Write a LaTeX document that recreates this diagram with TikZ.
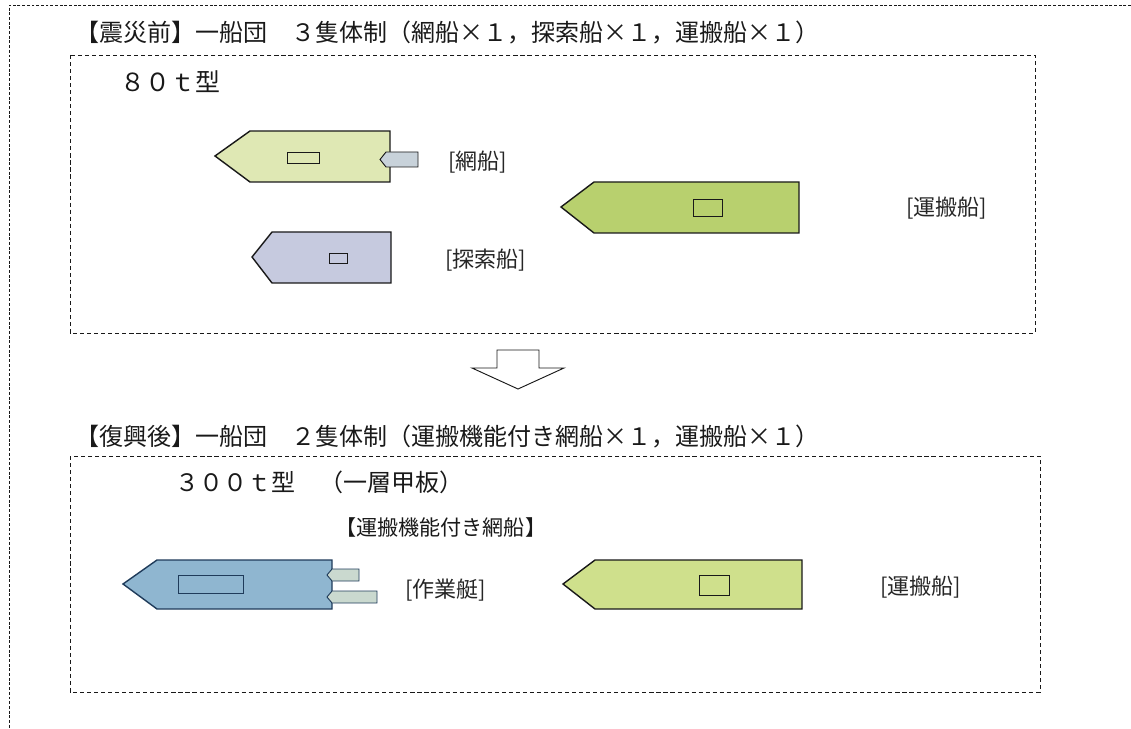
\documentclass[tikz,border=0pt]{standalone}
\usepackage{fontspec}
\setmainfont{Noto Sans CJK JP}

\definecolor{netpale}{HTML}{DFE8B4}
\definecolor{scoutgray}{HTML}{C6CADF}
\definecolor{carrygreen}{HTML}{B8D06E}
\definecolor{carrylight}{HTML}{CFE08C}
\definecolor{netblue}{HTML}{8FB6D0}
\definecolor{navy}{HTML}{1F3B5A}
\definecolor{skiff}{HTML}{C8D2DA}
\definecolor{skiffpale}{HTML}{CAD9CF}

\begin{document}
\begin{tikzpicture}[
  x=0.3mm, y=-0.3mm, line join=miter,
  frame/.style={black!90, line width=0.6pt, dash pattern=on 2.5pt off 1.5pt},
  panel/.style={black!90, line width=0.6pt, dash pattern=on 3.5pt off 2.5pt},
  hull/.style={draw=black!90, line width=1.2pt},
  cabin/.style={draw=black!90, line width=0.8pt},
  boat/.style={draw=black!90, line width=0.8pt, fill=skiff},
  head/.style={anchor=west, inner sep=0, text=black!90,
               font=\fontsize{20.5}{24}\selectfont},
  tag/.style={anchor=west, inner sep=0, text=black!85,
              font=\fontsize{18.8}{22}\selectfont}
]
  \useasboundingbox (0,0) rectangle (1131,729);

  % ── Outer frame (only top and left edges) ──────────────────────────
  \draw[frame] (1131,5) -- (9,5) -- (9,729);

  % ── Before: 80t fleet ──────────────────────────────────────────────
  \node[head] (before) at (75,33)
      {【震災前】一船団　３隻体制（網船×１，探索船×１，運搬船×１）};
  \draw[panel] (70,55) rectangle (1035,333);
  \node[head, font=\fontsize{21.3}{24}\selectfont] (type80) at (120,82)
      {８０ｔ型};

  % net boat
  \filldraw[hull, fill=netpale]
      (250,131) -- (390,131) -- (390,182) -- (250,182) -- (215,156) -- cycle;
  \draw[cabin] (287,152) rectangle (319,163);
  \filldraw[boat] (386,152) -- (418,152) -- (418,167) -- (386,167)
      -- (380,159.5) -- cycle;
  \node[tag] (net80) at (448,162) {[網船]};

  % scout boat
  \filldraw[hull, fill=scoutgray]
      (272,232) -- (391,232) -- (391,283) -- (272,283) -- (252,257) -- cycle;
  \draw[cabin] (329,253) rectangle (347,263);
  \node[tag] (scout80) at (445,260) {[探索船]};

  % carrier
  \filldraw[hull, fill=carrygreen]
      (594,182) -- (799,182) -- (799,233) -- (594,233) -- (561,207) -- cycle;
  \draw[cabin] (693,199) rectangle (722,216);
  \node[tag] (carry80) at (906,208) {[運搬船]};

  % ── Hollow down arrow ──────────────────────────────────────────────
  \filldraw[fill=white, draw=black!90, line width=0.8pt]
      (497,350) -- (539,350) -- (539,368) -- (564,368) -- (518,389)
      -- (472,368) -- (497,368) -- cycle;

  % ── After: 300t fleet ──────────────────────────────────────────────
  \node[head] (after) at (75,437)
      {【復興後】一船団　２隻体制（運搬機能付き網船×１，運搬船×１）};
  \draw[panel] (70,456) rectangle (1040,692);
  \node[head] (type300) at (175,482)
      {３００ｔ型　（一層甲板）};
  \node[head, font=\fontsize{18}{22}\selectfont] (netcarry) at (335,527)
      {【運搬機能付き網船】};

  % net boat with carrying function
  \filldraw[hull, draw=navy, fill=netblue]
      (157,560) -- (332,560) -- (332,609) -- (157,609) -- (123,584) -- cycle;
  \draw[cabin, draw=navy] (178,575) rectangle (243,593);
  \filldraw[boat, draw=navy, fill=skiffpale]
      (332,569) -- (359,569) -- (359,581) -- (332,581) -- (327,575) -- cycle;
  \filldraw[boat, draw=navy, fill=skiffpale]
      (332,591) -- (377,591) -- (377,603) -- (332,603) -- (327,597) -- cycle;
  \node[tag] (skiff300) at (405,590) {[作業艇]};

  % carrier
  \filldraw[hull, fill=carrylight]
      (595,560) -- (802,560) -- (802,609) -- (595,609) -- (563,584) -- cycle;
  \draw[cabin] (699,575) rectangle (729,595);
  \node[tag] (carry300) at (880,587) {[運搬船]};

\end{tikzpicture}
\end{document}
